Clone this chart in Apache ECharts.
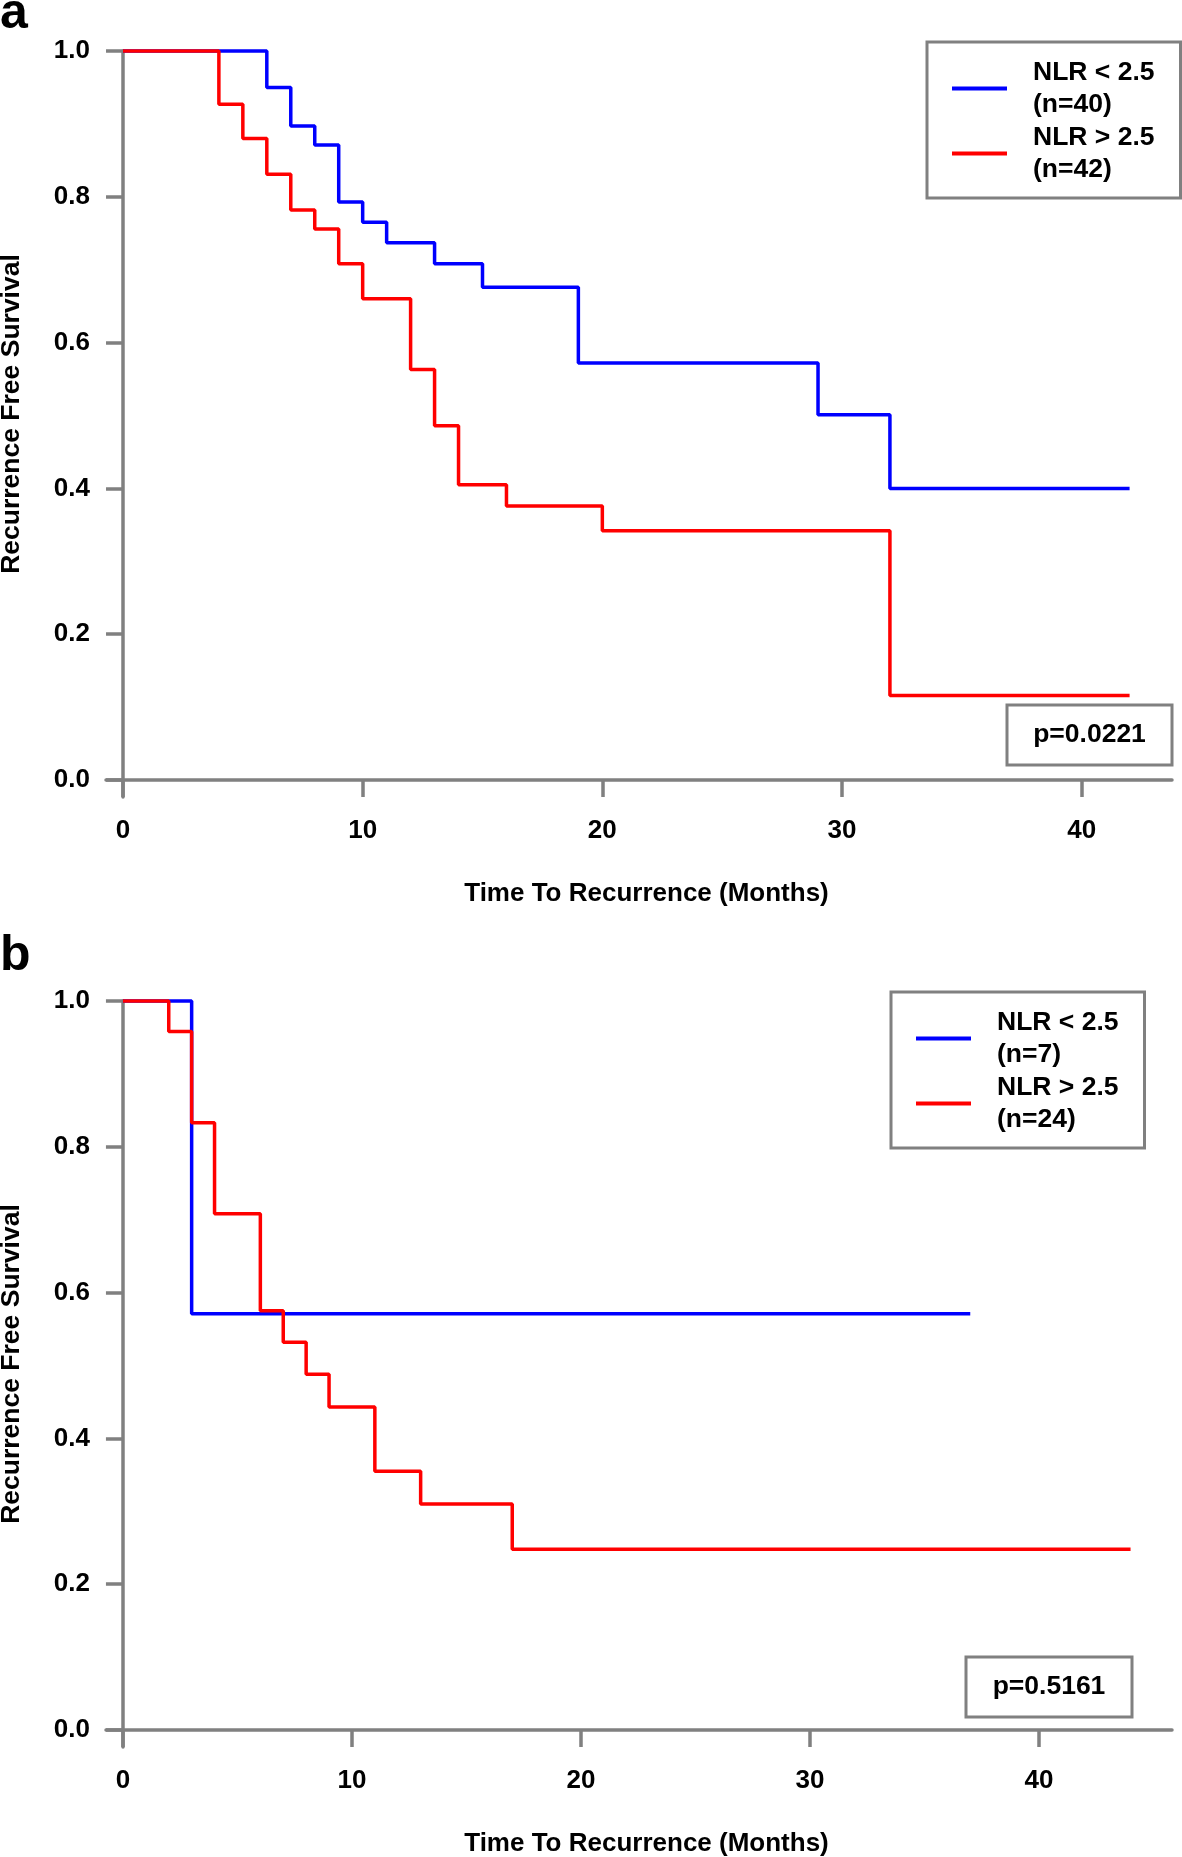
<!DOCTYPE html>
<html>
<head>
<meta charset="utf-8">
<script src="https://cdn.jsdelivr.net/npm/echarts@6/dist/echarts.min.js"></script>
<style>html,body{margin:0;padding:0;background:#fff;}#main{width:1182px;height:1857px;}</style>
</head>
<body>
<div id="main"></div>
<script>
// ---- data ----
const groupLabels = ['NLR < 2.5', 'NLR > 2.5'];
const nA = [40, 42];
const nB = [7, 24];
const monthsA_low  = [0, 6, 7, 8, 9, 10, 11, 13, 15, 19, 29, 32, 42];
const survA_low    = [1, 0.95, 0.897, 0.871, 0.793, 0.765, 0.737, 0.708, 0.676, 0.572, 0.501, 0.40, 0.40];
const monthsA_high = [0, 4, 5, 6, 7, 8, 9, 10, 12, 13, 14, 16, 20, 32, 42];
const survA_high   = [1, 0.927, 0.880, 0.831, 0.782, 0.756, 0.708, 0.660, 0.563, 0.486, 0.405, 0.376, 0.342, 0.116, 0.116];
const monthsB_low  = [0, 3, 37];
const survB_low    = [1, 0.571, 0.571];
const monthsB_high = [0, 2, 3, 4, 6, 7, 8, 9, 11, 13, 17, 44];
const survB_high   = [1, 0.958, 0.833, 0.708, 0.575, 0.532, 0.488, 0.443, 0.355, 0.310, 0.248, 0.248];
const pValues = ['p=0.0221', 'p=0.5161'];
const panelLetters = ['a', 'b'];
const xTicks = [0, 10, 20, 30, 40];
const yTicks = [0, 0.2, 0.4, 0.6, 0.8, 1.0];
const xTitle = 'Time To Recurrence (Months)';
const yTitle = 'Recurrence Free Survival';

// ---- chart ----
const FONT = 'Liberation Sans, Arial, sans-serif';
const GRAY = '#808080';
const BLUE = '#0000ff';
const RED = '#ff0000';
const pairs = (xs, ys) => xs.map((x, i) => [x, ys[i]]);
const nameOf = (i, n) => groupLabels[i] + '\n(n=' + n[i] + ')';

function xAxisFor(gi, min, max) {
  return {
    type: 'value', gridIndex: gi, min: min, max: max,
    axisLine: { onZero: true, lineStyle: { color: GRAY, width: 3.5 } },
    axisTick: { show: true, length: 17, customValues: xTicks, lineStyle: { color: GRAY, width: 3.5 } },
    axisLabel: { customValues: xTicks, margin: 21, color: '#000', fontWeight: 'bold', fontSize: 26, fontFamily: FONT },
    splitLine: { show: false },
    name: xTitle, nameLocation: 'middle', nameGap: 84,
    nameTextStyle: { color: '#000', fontWeight: 'bold', fontSize: 26, fontFamily: FONT, padding: [0, 0, 0, 15] }
  };
}
function yAxisFor(gi) {
  return {
    type: 'value', gridIndex: gi, min: -0.0233, max: 1,
    axisLine: { onZero: true, lineStyle: { color: GRAY, width: 3.5 } },
    axisTick: { show: true, length: 17, customValues: yTicks, lineStyle: { color: GRAY, width: 3.5 } },
    axisLabel: { customValues: yTicks, margin: 16, color: '#000', fontWeight: 'bold', fontSize: 26, fontFamily: FONT,
                 formatter: v => Number(v).toFixed(1) },
    splitLine: { show: false },
    name: yTitle, nameLocation: 'middle', nameGap: 81,
    nameTextStyle: { color: '#000', fontWeight: 'bold', fontSize: 26.5, fontFamily: FONT, padding: [0, 0, 0, 20] }
  };
}
function lineSeries(name, xi, data, color) {
  return {
    type: 'line', name: name, xAxisIndex: xi, yAxisIndex: xi, step: 'end', symbol: 'none',
    clip: false, data: data, color: color,
    itemStyle: { color: color },
    lineStyle: { color: color, width: 3.5 }
  };
}
function legendFor(names, left, top) {
  return {
    data: names, left: left, top: top, orient: 'vertical', itemGap: 6,
    itemWidth: 55, itemHeight: 4, icon: 'rect', selectedMode: false,
    padding: [17, 26, 15, 25], borderColor: GRAY, borderWidth: 3, backgroundColor: '#fff',
    formatter: n => n.split('\n').map(s => '{t|' + s + '}').join('\n'),
    textStyle: { rich: { t: { fontSize: 26.5, fontWeight: 'bold', fontFamily: FONT, color: '#000', lineHeight: 32, padding: [0, 0, 0, 21] } } }
  };
}
function pBox(x, y, w, h, txt) {
  return [
    { type: 'rect', shape: { x: x, y: y, width: w, height: h }, style: { fill: '#fff', stroke: GRAY, lineWidth: 3 }, z: 10 },
    { type: 'text', x: x + w / 2, y: y + h / 2, z: 11,
      style: { text: txt, fontSize: 26.5, fontWeight: 'bold', fontFamily: FONT, fill: '#000', align: 'center', verticalAlign: 'middle' } }
  ];
}

const chart = echarts.init(document.getElementById('main'), null, { renderer: 'canvas' });
chart.setOption({
  animation: false,
  backgroundColor: '#fff',
  grid: [
    { left: 106, top: 51, width: 1066, height: 746, outerBoundsMode: 'none', containLabel: false },
    { left: 106, top: 1001, width: 1066, height: 746, outerBoundsMode: 'none', containLabel: false }
  ],
  xAxis: [xAxisFor(0, -0.71, 43.77), xAxisFor(1, -0.74, 45.81)],
  yAxis: [yAxisFor(0), yAxisFor(1)],
  legend: [
    legendFor([nameOf(0, nA), nameOf(1, nA)], 927, 42),
    legendFor([nameOf(0, nB), nameOf(1, nB)], 891, 992)
  ],
  series: [
    lineSeries(nameOf(0, nA), 0, pairs(monthsA_low, survA_low), BLUE),
    lineSeries(nameOf(1, nA), 0, pairs(monthsA_high, survA_high), RED),
    lineSeries(nameOf(0, nB), 1, pairs(monthsB_low, survB_low), BLUE),
    lineSeries(nameOf(1, nB), 1, pairs(monthsB_high, survB_high), RED)
  ],
  graphic: [].concat(
    pBox(1007, 705, 165, 60, pValues[0]),
    pBox(966, 1657, 166, 60, pValues[1]),
    [
      { type: 'text', x: 0, y: 14, style: { text: panelLetters[0], fontSize: 50, fontWeight: 'bold', fontFamily: FONT, fill: '#000', align: 'left', verticalAlign: 'middle' } },
      { type: 'text', x: 0, y: 956, style: { text: panelLetters[1], fontSize: 50, fontWeight: 'bold', fontFamily: FONT, fill: '#000', align: 'left', verticalAlign: 'middle' } }
    ]
  )
});
</script>
</body>
</html>
